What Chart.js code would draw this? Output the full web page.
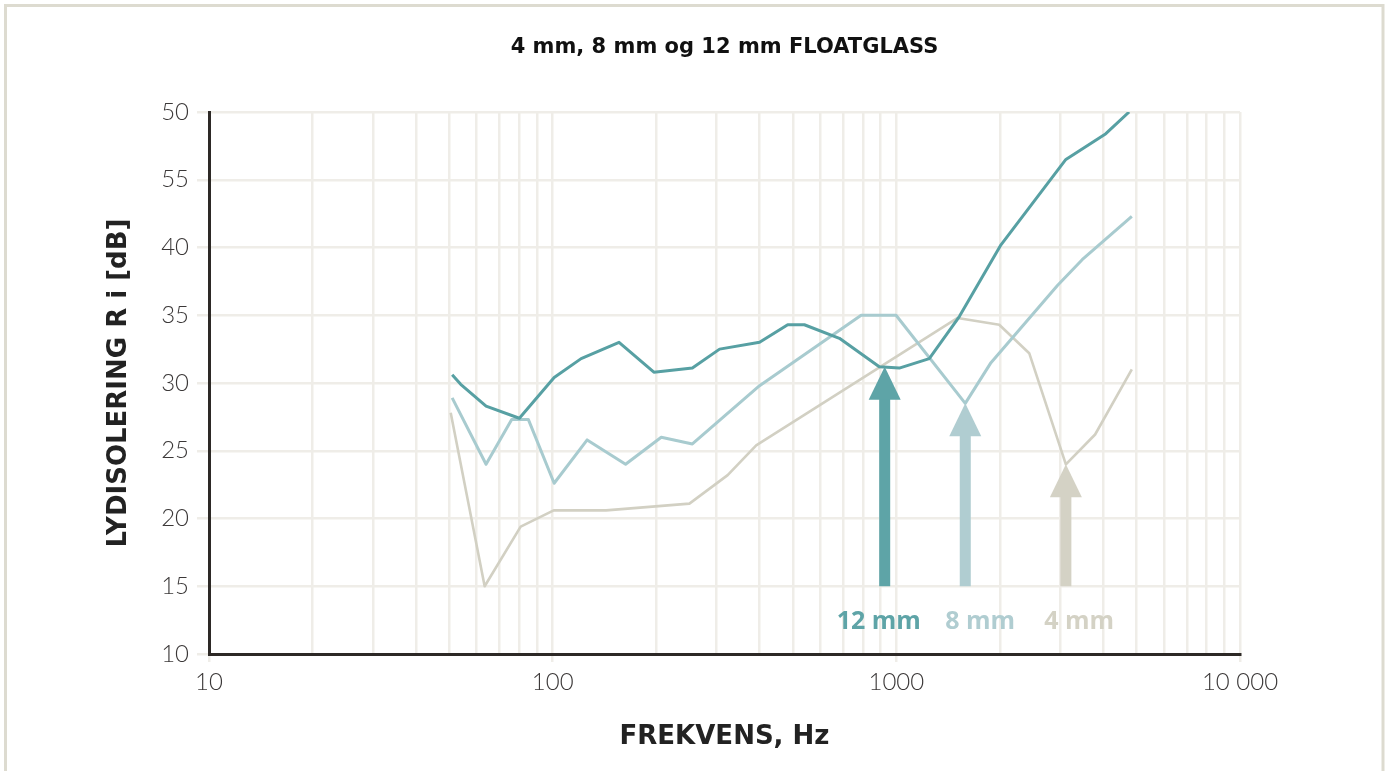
<!DOCTYPE html>
<html><head><meta charset="utf-8">
<script src="https://cdn.jsdelivr.net/npm/chart.js@4/dist/chart.umd.min.js"></script>
<style>html,body{margin:0;padding:0;background:#fff;overflow:hidden}canvas{display:block}</style>
</head><body>
<canvas id="c" width="1390" height="771"></canvas>
<script>
// ---- data ----
const freq12 = [51, 54, 64, 80, 101, 121, 156, 197, 255, 306, 400, 483, 540, 683, 892, 1020, 1247, 1525, 2016, 3114, 4070, 4757];
const db12   = [30.6, 29.9, 28.3, 27.4, 30.4, 31.8, 33.0, 30.8, 31.1, 32.5, 33.0, 34.3, 34.3, 33.3, 31.2, 31.1, 31.8, 34.9, 40.2, 46.5, 48.4, 50.0];
const freq8  = [51, 64, 76, 85, 101, 126, 163, 207, 255, 400, 790, 998, 1587, 1885, 2943, 3473, 4844];
const db8    = [28.9, 24.0, 27.3, 27.3, 22.6, 25.8, 24.0, 26.0, 25.5, 29.8, 35.0, 35.0, 28.5, 31.5, 37.2, 39.1, 42.3];
const freq4  = [50.5, 63.4, 80.7, 100.7, 143, 250, 323, 391, 1508, 1993, 2436, 3114, 3788, 4844];
const db4    = [27.8, 15.0, 19.4, 20.6, 20.6, 21.1, 23.2, 25.4, 34.8, 34.3, 32.2, 24.0, 26.2, 31.0];
const seriesNames = ['12 mm', '8 mm', '4 mm'];
const arrowFreqs = [925, 1587, 3114];
const arrowTips  = [31.2, 28.5, 24.0];
const arrowBase  = 15;
const labelFreqs = [889, 1754, 3405];
const labelValue = 12.4;
const gridFreqs = [10,20,30,40,50,60,70,80,90,100,200,300,400,500,600,700,800,900,1000,2000,3000,4000,5000,6000,7000,8000,9000,10000];
const xTickValues = [10, 100, 1000, 10000];
const xTickLabels = ['10', '100', '1000', '10 000'];
const yTickValues = [10, 15, 20, 25, 30, 35, 40, 45, 50];
const yTickLabels = ['10', '15', '20', '25', '30', '35', '40', '55', '50'];
const titleText = '4 mm, 8 mm og 12 mm FLOATGLASS';
const xTitle = 'FREKVENS, Hz';
const yTitle = 'LYDISOLERING R i [dB]';

// ---- styles ----
const lineColors  = ['#57a0a3', '#a8cbcf', '#d2d0c3'];
const arrowColors = ['#5ea4a7', '#b0cdd1', '#d4d2c5'];
const gridColor = '#efede8';
const axisColor = '#2d2926';
const TICKFONT = 'Lato, "Open Sans", sans-serif';
const BOLDFONT = '"DejaVu Sans", sans-serif';
const LABELFONT = '"Open Sans", sans-serif';

const pts = (xs, ys) => xs.map((f, i) => ({x: f, y: ys[i]}));

const decor = {
  id: 'decor',
  beforeDraw(chart) {
    const ctx = chart.ctx;
    ctx.save();
    ctx.fillStyle = '#fff';
    ctx.fillRect(0, 0, chart.width, chart.height);
    ctx.strokeStyle = '#dddbd0';
    ctx.lineWidth = 3;
    ctx.strokeRect(5.5, 5.5, 1377.5, 820);
    const ca = chart.chartArea;
    ctx.fillStyle = '#111';
    ctx.font = 'bold 21px ' + BOLDFONT;
    ctx.textAlign = 'center';
    ctx.textBaseline = 'middle';
    ctx.fillText(titleText, (ca.left + ca.right) / 2, 48);
    ctx.restore();
  },
  afterDatasetsDraw(chart) {
    const ctx = chart.ctx, xs = chart.scales.x, ys = chart.scales.y;
    ctx.save();
    const headH = 33, headW = 16, shaftW = 11;
    arrowFreqs.forEach((f, i) => {
      const x = xs.getPixelForValue(f);
      const yt = ys.getPixelForValue(arrowTips[i]);
      const yb = ys.getPixelForValue(arrowBase);
      ctx.fillStyle = arrowColors[i];
      ctx.fillRect(x - shaftW / 2, yt + headH - 1, shaftW, yb - (yt + headH - 1));
      ctx.beginPath();
      ctx.moveTo(x, yt);
      ctx.lineTo(x + headW, yt + headH);
      ctx.lineTo(x - headW, yt + headH);
      ctx.closePath();
      ctx.fill();
      ctx.font = 'bold 25px ' + LABELFONT;
      ctx.textAlign = 'center';
      ctx.textBaseline = 'middle';
      ctx.fillText(seriesNames[i], xs.getPixelForValue(labelFreqs[i]), ys.getPixelForValue(labelValue));
    });
    ctx.restore();
  }
};

new Chart(document.getElementById('c'), {
  type: 'line',
  data: {
    datasets: [
      {label: seriesNames[0], data: pts(freq12, db12), borderColor: lineColors[0], borderWidth: 3},
      {label: seriesNames[1], data: pts(freq8, db8), borderColor: lineColors[1], borderWidth: 3},
      {label: seriesNames[2], data: pts(freq4, db4), borderColor: lineColors[2], borderWidth: 2.6}
    ]
  },
  options: {
    responsive: false,
    animation: false,
    devicePixelRatio: 1,
    elements: {point: {radius: 0}, line: {tension: 0, borderJoinStyle: 'round', fill: false}},
    layout: {padding: {top: 112, right: 150, bottom: 0, left: 0}},
    plugins: {legend: {display: false}, tooltip: {enabled: false}, title: {display: false}},
    scales: {
      x: {
        type: 'logarithmic', min: 10, max: 10000,
        afterBuildTicks: s => { s.ticks = gridFreqs.map(v => ({value: v})); },
        afterFit: s => { s.height = 117; },
        ticks: {
          autoSkip: false, maxRotation: 0, minRotation: 0, padding: 6,
          color: '#3b3838', font: {family: TICKFONT, size: 24, weight: 300},
          callback: v => { const i = xTickValues.indexOf(v); return i >= 0 ? xTickLabels[i] : ''; }
        },
        grid: {
          color: gridColor, lineWidth: 2.5, tickLength: 8,
          tickColor: c => (c.tick && xTickValues.includes(c.tick.value)) ? gridColor : 'rgba(0,0,0,0)'
        },
        border: {color: axisColor, width: 3},
        title: {display: true, text: xTitle, color: '#222', font: {family: BOLDFONT, size: 26, weight: 'bold'}, padding: {top: 0, bottom: 18}}
      },
      y: {
        min: 10, max: 50,
        afterBuildTicks: s => { s.ticks = yTickValues.map(v => ({value: v})); },
        afterFit: s => { s.width = 209; },
        ticks: {
          padding: 8, color: '#3b3838', font: {family: TICKFONT, size: 24, weight: 300},
          callback: v => { const i = yTickValues.indexOf(v); return i >= 0 ? yTickLabels[i] : ''; }
        },
        grid: {color: gridColor, lineWidth: 2.5, tickLength: 12},
        border: {color: axisColor, width: 3},
        title: {display: true, text: yTitle, color: '#222', font: {family: BOLDFONT, size: 26, weight: 'bold'}, padding: {top: 104, bottom: 0}}
      }
    }
  },
  plugins: [decor]
});
</script>
</body></html>
